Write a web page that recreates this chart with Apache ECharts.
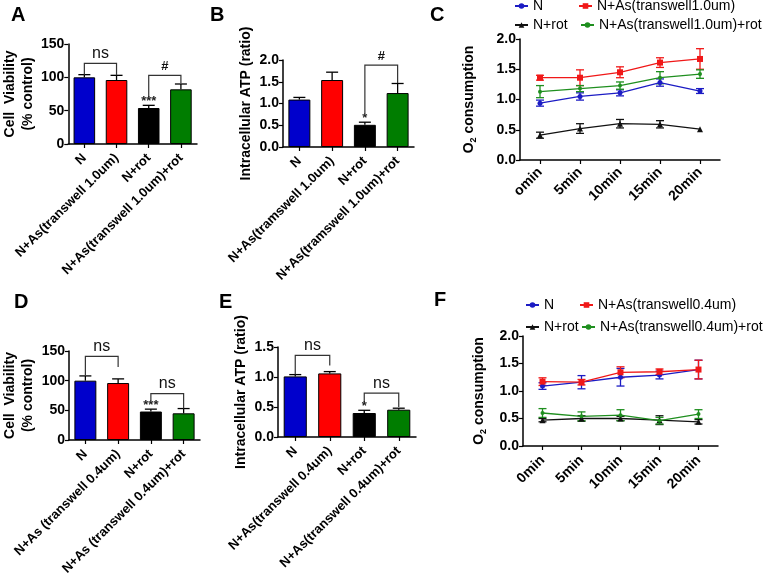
<!DOCTYPE html>
<html><head><meta charset="utf-8">
<script src="https://cdn.jsdelivr.net/npm/echarts@6/dist/echarts.min.js"></script>
<style>html,body{margin:0;padding:0;background:#fff}#c{width:778px;height:581px}</style>
</head><body><div id="c"></div>
<script>
// ---------- DATA ----------
const catsA = ['N','N+As(transwell 1.0um)','N+rot','N+As(transwell 1.0um)+rot'];
const valsA = [100, 96, 54, 82];
const errA  = [4, 7, 4, 8];
const catsB = ['N','N+As(tramswell 1.0um)','N+rot','N+As(tramswell 1.0um)+rot'];
const valsB = [1.09, 1.54, 0.51, 1.24];
const errB  = [0.05, 0.18, 0.06, 0.22];
const catsD = ['N','N+As (transwell 0.4um)','N+rot','N+As (transwell 0.4um)+rot'];
const valsD = [100, 96, 48, 45];
const errD  = [8, 7, 4, 8];
const catsE = ['N','N+As(transwell 0.4um)','N+rot','N+As(transwell 0.4um)+rot'];
const valsE = [1.01, 1.06, 0.40, 0.455];
const errE  = [0.03, 0.03, 0.045, 0.025];

const timesC = ['omin','5min','10min','15min','20min'];
const namesC = ['N','N+As(transwell1.0um)','N+rot','N+As(transwell1.0um)+rot'];
const cN = [0.94, 1.05, 1.11, 1.28, 1.14];      const cNErr = [0.05, 0.06, 0.05, 0.06, 0.04];
const cAs = [1.36, 1.36, 1.45, 1.61, 1.67];     const cAsErr = [0.04, 0.13, 0.09, 0.08, 0.17];
const cRot = [0.41, 0.52, 0.60, 0.59, 0.51];    const cRotErr = [0.05, 0.08, 0.07, 0.06, 0];
const cAsRot = [1.13, 1.18, 1.23, 1.36, 1.42];  const cAsRotErr = [0.10, 0.05, 0.06, 0.10, 0.07];

const timesF = ['0min','5min','10min','15min','20min'];
const namesF = ['N','N+As(transwell0.4um)','N+rot','N+As(transwell0.4um)+rot'];
const fN = [1.09, 1.16, 1.25, 1.29, 1.39];      const fNErr = [0.06, 0.12, 0.16, 0.07, 0.17];
const fAs = [1.17, 1.16, 1.34, 1.35, 1.39];     const fAsErr = [0.07, 0.05, 0.10, 0.05, 0.17];
const fRot = [0.47, 0.50, 0.50, 0.47, 0.44];    const fRotErr = [0.03, 0.05, 0.04, 0.08, 0.04];
const fAsRot = [0.60, 0.54, 0.56, 0.46, 0.58];  const fAsRotErr = [0.08, 0.08, 0.10, 0.06, 0.08];

// significance brackets: [fromCat, toCat, topValue, leftLegEnd, rightLegEnd]
const bracketsA = [[0, 1, 121, 104, 103], [2, 3, 103, 70, 91]];
const bracketLabelsA = ['ns', '#'];
const bracketsB = [[2, 3, 1.88, 0.78, 1.47]];
const bracketLabelsB = ['#'];
const bracketsD = [[0, 1, 141, 109, 123], [2, 3, 78, 67, 53]];
const bracketLabelsD = ['ns', 'ns'];
const bracketsE = [[0, 1, 1.36, 1.04, 1.19], [2, 3, 0.73, 0.58, 0.50]];
const bracketLabelsE = ['ns', 'ns'];
// star annotations: [cat, value]
const starsA = [[2, 59]]; const starTextA = ['***'];
const starsB = [[2, 0.58]]; const starTextB = ['*'];
const starsD = [[2, 53]]; const starTextD = ['***'];
const starsE = [[2, 0.45]]; const starTextE = ['*'];

// ---------- STYLE ----------
const FONT = 'Arial, "Liberation Sans", sans-serif';
const barColors = ['#0000cc', '#ff0000', '#000000', '#007d00'];
const lineColors = ['#1c1cc4', '#f01818', '#111111', '#1f8f1f'];
const lineSymbols = ['circle', 'rect', 'triangle', 'circle'];
const lineSymbolSizes = [5, 6, 6, 4];

const grids = [
  {left: 65, top: 44, width: 132, height: 100},
  {left: 283, top: 60, width: 131, height: 87},
  {left: 520, top: 39, width: 200, height: 121},
  {left: 63, top: 351, width: 137, height: 89},
  {left: 278, top: 347, width: 138, height: 90},
  {left: 523, top: 336, width: 195, height: 110}
];

function xAx(gi, data, fs, margin) {
  return {
    type: 'category', gridIndex: gi, data: data,
    axisLine: {show: true, lineStyle: {color: '#000', width: 1.5}},
    axisTick: {show: true, alignWithLabel: true, length: 4, lineStyle: {color: '#000', width: 1.2}},
    axisLabel: {rotate: 45, interval: 0, fontWeight: 'bold', fontSize: fs, color: '#000', fontFamily: FONT, margin: margin},
    splitLine: {show: false}
  };
}
function yAx(gi, max, interval, dec, name, gap, extra) {
  const o = {
    type: 'value', gridIndex: gi, min: 0, max: max, interval: interval,
    axisLine: {show: true, lineStyle: {color: '#000', width: 1.5}},
    axisTick: {show: true, length: 4, lineStyle: {color: '#000', width: 1.2}},
    axisLabel: {fontWeight: 'bold', fontSize: 14, color: '#000', fontFamily: FONT, margin: 4,
      formatter: v => dec ? v.toFixed(1) : String(v)},
    splitLine: {show: false},
    name: name, nameLocation: 'middle', nameRotate: 90, nameGap: gap,
    nameTextStyle: Object.assign({fontWeight: 'bold', fontSize: 14, color: '#000', fontFamily: FONT, lineHeight: 18}, extra || {})
  };
  return o;
}

function barSeries(ai, vals) {
  return {
    type: 'bar', xAxisIndex: ai, yAxisIndex: ai, barCategoryGap: '33%',
    data: vals.map((v, i) => ({value: v, itemStyle: {color: barColors[i]}})),
    itemStyle: {borderColor: '#000', borderWidth: 1}, z: 2, silent: true
  };
}
function barErr(ai, vals, errs) {
  return {
    type: 'custom', xAxisIndex: ai, yAxisIndex: ai, z: 3, silent: true,
    data: vals.map((v, i) => [i, v, errs[i]]),
    renderItem: (p, api) => {
      const x = api.value(0), v = api.value(1), e = api.value(2);
      const a = api.coord([x, v]), b = api.coord([x, v + e]);
      const st = {stroke: '#000', lineWidth: 1.3};
      return {type: 'group', children: [
        {type: 'line', shape: {x1: a[0], y1: a[1], x2: b[0], y2: b[1]}, style: st},
        {type: 'line', shape: {x1: b[0] - 6, y1: b[1], x2: b[0] + 6, y2: b[1]}, style: st}
      ]};
    }
  };
}
function brackets(ai, arr, labels) {
  return {
    type: 'custom', xAxisIndex: ai, yAxisIndex: ai, z: 4, silent: true,
    data: arr,
    renderItem: (p, api) => {
      const x1 = api.value(0), x2 = api.value(1), t = api.value(2), l = api.value(3), r = api.value(4);
      const pl = api.coord([x1, l]), plt = api.coord([x1, t]), prt = api.coord([x2, t]), pr = api.coord([x2, r]);
      const lab = labels[p.dataIndex];
      return {type: 'group', children: [
        {type: 'polyline', shape: {points: [pl, plt, prt, pr]}, style: {stroke: '#333', lineWidth: 1.2, fill: null}},
        {type: 'text', x: (plt[0] + prt[0]) / 2, y: plt[1] - 2,
          style: {text: lab, textAlign: 'center', textVerticalAlign: 'bottom',
            font: (lab === 'ns' ? '16px ' : 'bold 13px ') + FONT, fill: '#111'}}
      ]};
    }
  };
}
function stars(ai, arr, texts) {
  return {
    type: 'custom', xAxisIndex: ai, yAxisIndex: ai, z: 4, silent: true,
    data: arr,
    renderItem: (p, api) => {
      const c = api.coord([api.value(0), api.value(1)]);
      return {type: 'text', x: c[0], y: c[1] + 3,
        style: {text: texts[p.dataIndex], textAlign: 'center', textVerticalAlign: 'bottom',
          font: 'bold 13px ' + FONT, fill: '#222'}};
    }
  };
}
function lineSeries(ai, name, vals, k) {
  return {
    type: 'line', name: name, xAxisIndex: ai, yAxisIndex: ai, data: vals,
    symbol: lineSymbols[k], symbolSize: lineSymbolSizes[k], showSymbol: true,
    lineStyle: {color: lineColors[k], width: 1.3}, itemStyle: {color: lineColors[k]},
    z: 3, silent: true, animation: false
  };
}
function lineErr(ai, vals, errs, k) {
  return {
    type: 'custom', xAxisIndex: ai, yAxisIndex: ai, z: 2, silent: true,
    data: vals.map((v, i) => [i, v, errs[i]]),
    renderItem: (p, api) => {
      const x = api.value(0), v = api.value(1), e = api.value(2);
      if (!e) return null;
      const a = api.coord([x, v - e]), b = api.coord([x, v + e]);
      const st = {stroke: lineColors[k], lineWidth: 1.3};
      return {type: 'group', children: [
        {type: 'line', shape: {x1: a[0], y1: a[1], x2: b[0], y2: b[1]}, style: st},
        {type: 'line', shape: {x1: a[0] - 4, y1: a[1], x2: a[0] + 4, y2: a[1]}, style: st},
        {type: 'line', shape: {x1: b[0] - 4, y1: b[1], x2: b[0] + 4, y2: b[1]}, style: st}
      ]};
    }
  };
}
function leg(name, left, top) {
  return {data: [name], left: left, top: top, itemWidth: 13, itemHeight: 7, itemGap: 4, padding: 0,
    textStyle: {fontSize: 14, color: '#000', fontFamily: FONT}, selectedMode: false};
}

const o2Name = '{a|O}{s|2}{a| consumption}';
const o2Rich = {rich: {a: {fontWeight: 'bold', fontSize: 14, fontFamily: FONT, color: '#000'},
                       s: {fontWeight: 'bold', fontSize: 9, fontFamily: FONT, color: '#000', verticalAlign: 'bottom', padding: [6, 0, 0, 0]}}};

const series = [];
series.push(barSeries(0, valsA), barErr(0, valsA, errA), brackets(0, bracketsA, bracketLabelsA), stars(0, starsA, starTextA));
series.push(barSeries(1, valsB), barErr(1, valsB, errB), brackets(1, bracketsB, bracketLabelsB), stars(1, starsB, starTextB));
series.push(barSeries(3, valsD), barErr(3, valsD, errD), brackets(3, bracketsD, bracketLabelsD), stars(3, starsD, starTextD));
series.push(barSeries(4, valsE), barErr(4, valsE, errE), brackets(4, bracketsE, bracketLabelsE), stars(4, starsE, starTextE));
const cVals = [cN, cAs, cRot, cAsRot], cErrs = [cNErr, cAsErr, cRotErr, cAsRotErr];
const fVals = [fN, fAs, fRot, fAsRot], fErrs = [fNErr, fAsErr, fRotErr, fAsRotErr];
for (let k = 0; k < 4; k++) {
  series.push(lineErr(2, cVals[k], cErrs[k], k), lineSeries(2, namesC[k], cVals[k], k));
  series.push(lineErr(5, fVals[k], fErrs[k], k), lineSeries(5, namesF[k], fVals[k], k));
}

const letter = (t, x, y) => ({type: 'text', left: x, top: y, style: {text: t, font: 'bold 20px ' + FONT, fill: '#000'}});

const option = {
  animation: false,
  backgroundColor: '#fff',
  grid: grids,
  xAxis: [xAx(0, catsA, 13, 12), xAx(1, catsB, 13, 12), xAx(2, timesC, 14, 10), xAx(3, catsD, 13, 12), xAx(4, catsE, 13, 12), xAx(5, timesF, 14, 12)],
  yAxis: [
    yAx(0, 150, 50, false, 'Cell  Viability\n(% control)', 28),
    yAx(1, 2, 0.5, true, 'Intracellular ATP (ratio)', 28),
    yAx(2, 2, 0.5, true, o2Name, 42, o2Rich),
    yAx(3, 150, 50, false, 'Cell  Viability\n(% control)', 32),
    yAx(4, 1.5, 0.5, true, 'Intracellular ATP (ratio)', 26),
    yAx(5, 2, 0.5, true, o2Name, 35, o2Rich)
  ],
  legend: [
    leg(namesC[0], 514, -1), leg(namesC[1], 578, -1), leg(namesC[2], 514, 18), leg(namesC[3], 580, 18),
    leg(namesF[0], 525, 298), leg(namesF[1], 579, 298), leg(namesF[2], 525, 320), leg(namesF[3], 581, 320)
  ],
  graphic: [letter('A', 11, 5), letter('B', 210, 5), letter('C', 430, 5), letter('D', 14, 292), letter('E', 219, 292), letter('F', 434, 290)],
  series: series
};
const chart = echarts.init(document.getElementById('c'), null, {renderer: 'canvas'});
chart.setOption(option);
</script></body></html>
